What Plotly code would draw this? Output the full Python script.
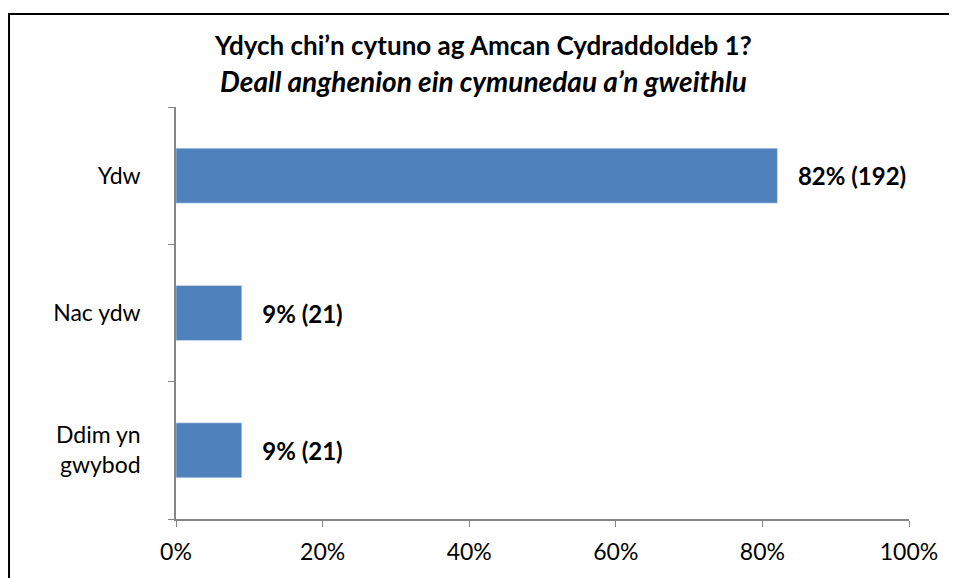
import plotly.graph_objects as go

# survey answers (count of respondents)
categories = ["Ydw", "Nac ydw", "Ddim yn<br>gwybod"]
counts = [192, 21, 21]
total = sum(counts)
shares = [c / total * 100 for c in counts]
labels = [f"\u00a0\u00a0\u00a0{round(s)}% ({c})" for s, c in zip(shares, counts)]
x_ticks = [0, 20, 40, 60, 80, 100]
x_tick_text = ["0%", "20%", "40%", "60%", "80%", "100%"]
title_line1 = "Ydych chi’n cytuno ag Amcan Cydraddoldeb 1?"
title_line2 = "Deall anghenion ein cymunedau a’n gweithlu"

font_family = "Lato, 'Open Sans', sans-serif"

fig = go.Figure(go.Bar(
    x=shares,
    y=categories,
    orientation="h",
    marker_color="#4F81BD",
    text=labels,
    textposition="outside",
    textfont=dict(size=24, color="black", family=font_family, weight="bold"),
    cliponaxis=False,
    width=0.4,
))

# page body adds an 8px offset, so margins are shifted to compensate
fig.update_layout(
    width=957,
    height=578,
    margin=dict(l=168, r=56, t=99, b=67),
    paper_bgcolor="white",
    plot_bgcolor="white",
    font=dict(family=font_family, size=23, color="black"),
    showlegend=False,
    xaxis=dict(
        range=[0, 100],
        tickvals=x_ticks,
        ticktext=x_tick_text,
        showgrid=False,
        zeroline=False,
        showline=True,
        linecolor="#868686",
        linewidth=1.5,
        ticks="outside",
        ticklen=6,
        tickcolor="#868686",
        tickfont=dict(size=23),
        ticklabelstandoff=6,
        automargin=False,
    ),
    yaxis=dict(
        categoryorder="array",
        categoryarray=categories[::-1],
        showgrid=False,
        showline=True,
        linecolor="#868686",
        linewidth=1.5,
        ticks="outside",
        tickson="boundaries",
        ticklen=6,
        tickcolor="#868686",
        tickfont=dict(size=23),
        ticklabelstandoff=29,
        automargin=False,
    ),
)

fig.add_annotation(
    text=f"<b>{title_line1}</b>", xref="paper", yref="paper",
    x=(475 - 168) / 733, y=(511 - 37) / 412, xanchor="center", yanchor="middle",
    showarrow=False, font=dict(size=26, color="black"),
)
fig.add_annotation(
    text=f"<b><i>{title_line2}</i></b>", xref="paper", yref="paper",
    x=(475 - 168) / 733, y=(511 - 73) / 412, xanchor="center", yanchor="middle",
    showarrow=False, font=dict(size=28, color="black"),
)

# outer chart frame
fig.add_shape(
    type="rect", xref="paper", yref="paper",
    x0=-0.2278, x1=1.0628, y0=-0.3, y1=1.2257,
    line=dict(color="black", width=2),
    fillcolor="rgba(0,0,0,0)",
    layer="above",
)

fig.write_html("out.html")
